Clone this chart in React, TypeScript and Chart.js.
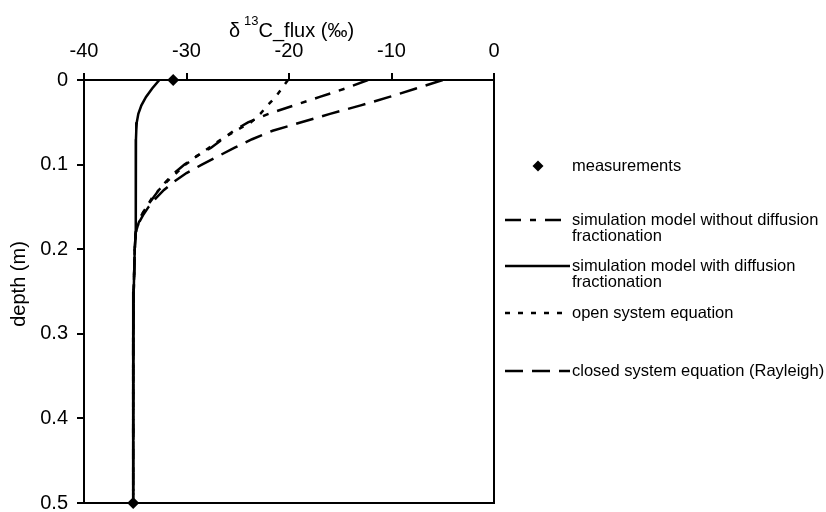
import React, { useEffect, useRef } from "react";
import { Chart, registerables } from "chart.js";
Chart.register(...registerables);

// depth (m)
const depths = [0, 0.01, 0.02, 0.03, 0.04, 0.05, 0.06, 0.07, 0.08, 0.09, 0.1, 0.11, 0.12, 0.13, 0.14, 0.15, 0.16, 0.17, 0.18, 0.2, 0.25, 0.3, 0.4, 0.5];

// δ13C_flux (‰) per series
const withoutDiffusion = [-12.3, -14.5, -17.0, -19.5, -22.0, -24.0, -25.4, -26.5, -27.6, -29.0, -30.2, -31.2, -32.0, -32.7, -33.3, -33.9, -34.4, -34.7, -34.95, -35.05, -35.15, -35.2, -35.2, -35.2];
const withDiffusion = [-32.65, -33.35, -33.95, -34.4, -34.7, -34.85, -34.9, -34.93, -34.95, -34.95, -34.95, -34.95, -34.95, -34.95, -34.95, -34.95, -34.95, -34.95, -34.95, -35.05, -35.15, -35.2, -35.2, -35.2];
const openSystem = [-20.1, -20.7, -21.3, -22.1, -22.8, -23.7, -25.2, -26.6, -27.8, -29.0, -30.1, -31.0, -31.9, -32.7, -33.4, -33.9, -34.4, -34.7, -34.95, -35.05, -35.15, -35.2, -35.2, -35.2];
const closedSystem = [-5.0, -7.6, -10.2, -13.0, -16.0, -18.8, -21.6, -23.6, -25.3, -26.9, -28.5, -30.0, -31.2, -32.2, -33.0, -33.7, -34.25, -34.7, -34.95, -35.05, -35.15, -35.2, -35.2, -35.2];

const measurementDepths = [0, 0.5];
const measurementValues = [-31.3, -35.2];

const xTicks = [-40, -30, -20, -10, 0];
const yTicks = [0, 0.1, 0.2, 0.3, 0.4, 0.5];

const legendLabels = [
  ["measurements"],
  ["simulation model without diffusion", "fractionation"],
  ["simulation model with diffusion", "fractionation"],
  ["open system equation"],
  ["closed system equation (Rayleigh)"],
];

const FONT = "'Liberation Sans', Arial, Helvetica, sans-serif";
const DASH_DOT = [16, 9, 6, 9];
const DOTTED = [5, 8];
const LONG_DASH = [18, 9];

export default function App() {
  const ref = useRef<HTMLCanvasElement>(null);

  useEffect(() => {
    if (!ref.current) return;
    const mk = (xs: number[]) => xs.map((x, i) => ({ x, y: depths[i] }));

    const overlay = {
      id: "overlay",
      afterDraw(chart: any) {
        const { ctx, chartArea: a } = chart;
        ctx.save();
        ctx.strokeStyle = "#000";
        ctx.lineWidth = 2;
        ctx.setLineDash([]);
        ctx.strokeRect(a.left, a.top, a.right - a.left, a.bottom - a.top);

        // x axis title with superscript
        ctx.fillStyle = "#000";
        ctx.textBaseline = "alphabetic";
        ctx.textAlign = "left";
        const big = `20px ${FONT}`;
        const small = `13px ${FONT}`;
        ctx.font = big;
        const wD = ctx.measureText("δ").width;
        const wRest = ctx.measureText("C_flux (‰)").width;
        ctx.font = small;
        const wSup = ctx.measureText("13").width;
        const gap = 4;
        const total = wD + gap + wSup + wRest;
        let x0 = 291.5 - total / 2;
        const base = 37;
        ctx.font = big;
        ctx.fillText("δ", x0, base);
        x0 += wD + gap;
        ctx.font = small;
        ctx.fillText("13", x0, base - 12);
        x0 += wSup;
        ctx.font = big;
        ctx.fillText("C_flux (‰)", x0, base);

        // y axis title
        ctx.save();
        ctx.translate(19, 284);
        ctx.rotate(-Math.PI / 2);
        ctx.textAlign = "center";
        ctx.textBaseline = "middle";
        ctx.font = `20px ${FONT}`;
        ctx.fillText("depth (m)", 0, 0);
        ctx.restore();

        // legend
        const lx0 = 505, lx1 = 570, tx = 572;
        const rows = [166, 220, 266, 313, 371];
        const dashes = [null, DASH_DOT, [], DOTTED, LONG_DASH];
        ctx.font = `16.5px ${FONT}`;
        ctx.textAlign = "left";
        ctx.textBaseline = "middle";
        rows.forEach((ry, i) => {
          if (i === 0) {
            const r = 5.5;
            ctx.beginPath();
            ctx.moveTo(538, ry - r);
            ctx.lineTo(538 + r, ry);
            ctx.lineTo(538, ry + r);
            ctx.lineTo(538 - r, ry);
            ctx.closePath();
            ctx.fill();
          } else {
            ctx.beginPath();
            ctx.lineWidth = 2.5;
            ctx.setLineDash(dashes[i] as number[]);
            ctx.moveTo(lx0, ry);
            ctx.lineTo(lx1, ry);
            ctx.stroke();
            ctx.setLineDash([]);
          }
          legendLabels[i].forEach((t, j) => {
            ctx.fillText(t, i === 0 ? 572 : tx, ry + j * 16.5);
          });
        });
        ctx.restore();
      },
    };

    const tickFont = { family: FONT, size: 20 };
    const lineDs = (label: string, xs: number[], dash: number[]) => ({
      label,
      data: mk(xs),
      showLine: true,
      borderColor: "#000",
      backgroundColor: "#000",
      borderWidth: 2.5,
      borderDash: dash,
      pointRadius: 0,
      tension: 0,
      fill: false,
    });

    const chart = new Chart(ref.current, {
      type: "scatter",
      data: {
        datasets: [
          {
            label: "measurements",
            data: measurementValues.map((x, i) => ({ x, y: measurementDepths[i] })),
            pointStyle: "rectRot",
            pointRadius: 6,
            backgroundColor: "#000",
            borderColor: "#000",
            borderWidth: 0,
            showLine: false,
            clip: false,
          } as any,
          lineDs("simulation model without diffusion fractionation", withoutDiffusion, DASH_DOT),
          lineDs("simulation model with diffusion fractionation", withDiffusion, []),
          lineDs("open system equation", openSystem, DOTTED),
          lineDs("closed system equation (Rayleigh)", closedSystem, LONG_DASH),
        ],
      },
      options: {
        responsive: false,
        animation: false,
        layout: { padding: { left: 0, top: 0, right: 332, bottom: 9 } },
        plugins: { legend: { display: false }, tooltip: { enabled: false }, title: { display: false } },
        scales: {
          x: {
            type: "linear",
            position: "top",
            min: xTicks[0],
            max: xTicks[xTicks.length - 1],
            afterBuildTicks: (s: any) => { s.ticks = xTicks.map((v) => ({ value: v })); },
            ticks: { font: tickFont, color: "#000", padding: 10, maxRotation: 0 },
            grid: { drawOnChartArea: false, drawTicks: true, tickLength: 7, color: "#000", lineWidth: 2 },
            border: { display: true, color: "#000", width: 2 },
            afterFit: (s: any) => { s.height = 80; s.paddingLeft = 0; s.paddingRight = 0; },
          },
          y: {
            type: "linear",
            position: "left",
            reverse: true,
            min: yTicks[0],
            max: yTicks[yTicks.length - 1],
            afterBuildTicks: (s: any) => { s.ticks = yTicks.map((v) => ({ value: v })); },
            ticks: { font: tickFont, color: "#000", padding: 9 },
            grid: { drawOnChartArea: false, drawTicks: true, tickLength: 7, color: "#000", lineWidth: 2 },
            border: { display: true, color: "#000", width: 2 },
            afterFit: (s: any) => { s.width = 84; s.paddingTop = 0; s.paddingBottom = 0; },
          },
        },
      } as any,
      plugins: [overlay],
    });
    return () => chart.destroy();
  }, []);

  return (
    <div style={{ position: "absolute", left: 0, top: 0, width: 826, height: 512, background: "#fff" }}>
      <canvas ref={ref} width={826} height={512} style={{ display: "block" }} />
    </div>
  );
}
